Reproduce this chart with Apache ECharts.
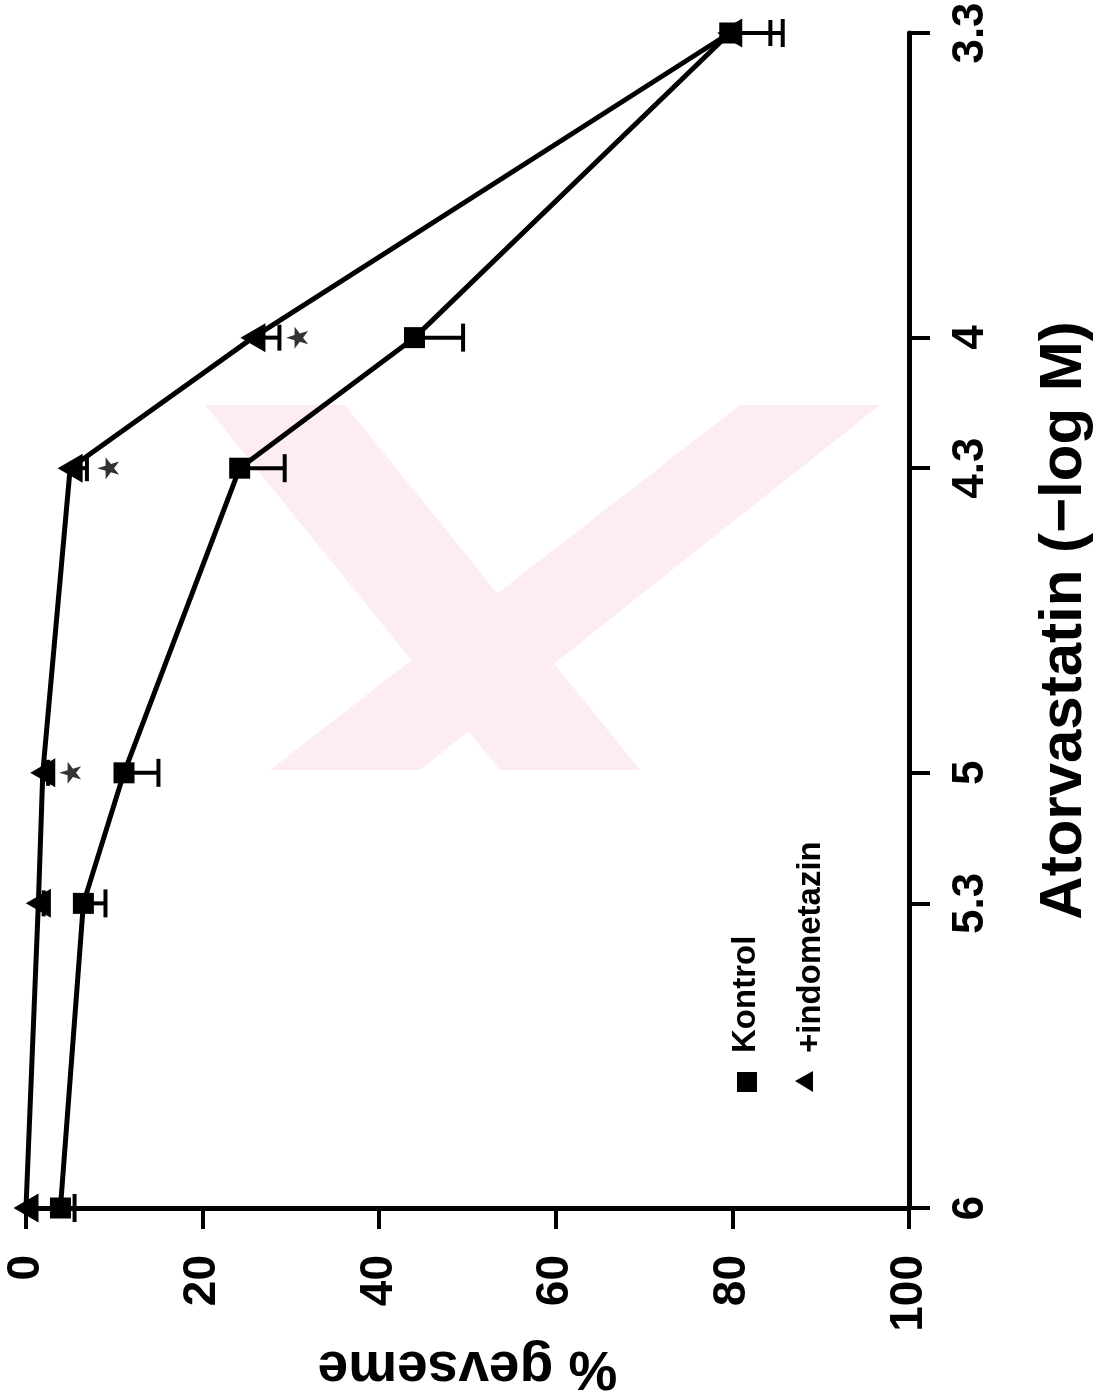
<!DOCTYPE html>
<html>
<head>
<meta charset="utf-8">
<script src="https://cdn.jsdelivr.net/npm/echarts@6/dist/echarts.min.js"></script>
<style>
html, body { margin: 0; padding: 0; background: #fff; }
#chart { width: 1100px; height: 1397px; }
</style>
</head>
<body>
<div id="chart"></div>
<script>
// Atorvastatin (-log M) doses and readings (% gevseme)
var doseTicks = [3.3, 4, 4.3, 5, 5.3, 6];
var doses = [6, 5.3, 5, 4.3, 4, 3.3];
var kontrol = [3.9, 6.5, 11.1, 24.2, 44.0, 79.7];
var kontrolErr = [1.6, 2.5, 3.9, 5.1, 5.5, 6.0];
var indo = [0, 1.4, 1.9, 5.0, 25.7, 79.7];
var indoErr = [0, 0.6, 0.6, 1.9, 3.0, 4.6];
// significance stars
var starDoses = [5, 4.3, 4];
var starVals = [5.0, 9.3, 30.7];

var FONT = '"Liberation Sans", Arial, sans-serif';
var STAR = 'path://M50,0 L61,35 L98,35 L68,57 L79,91 L50,70 L21,91 L32,57 L2,35 L39,35 Z';

function errSeries(name, vals, errs, capHalf) {
    return {
        type: 'custom',
        name: name,
        coordinateSystem: 'cartesian2d',
        silent: true,
        z: 3,
        data: doses.map(function (d, i) { return [vals[i], vals[i] + errs[i], d]; }),
        encode: { x: [0, 1], y: 2 },
        renderItem: function (params, api) {
            var y = api.value(2);
            var a = api.coord([api.value(0), y]);
            var b = api.coord([api.value(1), y]);
            if (b[0] - a[0] < 1) {
                return null;
            }
            return {
                type: 'group',
                children: [
                    { type: 'line', shape: { x1: a[0], y1: a[1], x2: b[0], y2: b[1] }, style: { stroke: '#000', lineWidth: 4 } },
                    { type: 'line', shape: { x1: b[0], y1: b[1] - capHalf, x2: b[0], y2: b[1] + capHalf }, style: { stroke: '#000', lineWidth: 4 } }
                ]
            };
        }
    };
}

var chart = echarts.init(document.getElementById('chart'));

var option = {
    animation: false,
    backgroundColor: '#fff',
    grid: {
        left: 26,
        right: 191,
        top: 33,
        bottom: 189,
        containLabel: false,
        outerBoundsMode: 'none'
    },
    xAxis: {
        type: 'value',
        position: 'bottom',
        min: 0,
        max: 100,
        interval: 20,
        name: '% gevseme',
        nameLocation: 'middle',
        nameRotate: 180,
        nameGap: 122,
        nameTextStyle: { fontFamily: FONT, fontSize: 55, fontWeight: 'bold', color: '#000' },
        axisLine: { show: true, onZero: false, lineStyle: { color: '#000', width: 5 } },
        axisTick: { show: true, length: 21, lineStyle: { color: '#000', width: 4 } },
        axisLabel: { rotate: 90, margin: 47, fontFamily: FONT, fontSize: 46, fontWeight: 'bold', color: '#000' },
        splitLine: { show: false }
    },
    yAxis: {
        type: 'value',
        position: 'right',
        inverse: true,
        min: 3.3,
        max: 6,
        name: 'Atorvastatin (\u2212log M)',
        nameLocation: 'middle',
        nameRotate: 90,
        nameGap: 125,
        nameTextStyle: { fontFamily: FONT, fontSize: 60, fontWeight: 'bold', color: '#000' },
        axisLine: { show: true, onZero: false, lineStyle: { color: '#000', width: 5 } },
        axisTick: { show: true, length: 21, customValues: doseTicks, lineStyle: { color: '#000', width: 4 } },
        axisLabel: { rotate: 90, margin: 40, customValues: doseTicks, fontFamily: FONT, fontSize: 44, fontWeight: 'bold', color: '#000' },
        splitLine: { show: false }
    },
    graphic: [
        // faint watermark
        { type: 'polygon', z: -10, shape: { points: [[205, 405], [345, 405], [640, 770], [500, 770]] }, style: { fill: '#fdedf0' } },
        { type: 'polygon', z: -10, shape: { points: [[740, 405], [880, 405], [420, 770], [270, 770]] }, style: { fill: '#fdedf0' } },
        // legend
        { type: 'rect', shape: { x: 737, y: 1072, width: 20, height: 20 }, style: { fill: '#000' } },
        { type: 'polygon', shape: { points: [[795, 1081], [813, 1071], [813, 1092]] }, style: { fill: '#000' } },
        { type: 'text', x: 746, y: 1053, rotation: Math.PI / 2, style: { text: 'Kontrol', fontFamily: FONT, fontSize: 33, fontWeight: 'bold', fill: '#000', textAlign: 'left', textVerticalAlign: 'middle' } },
        { type: 'text', x: 811, y: 1053, rotation: Math.PI / 2, style: { text: '+indometazin', fontFamily: FONT, fontSize: 33, fontWeight: 'bold', fill: '#000', textAlign: 'left', textVerticalAlign: 'middle' } }
    ],
    series: [
        errSeries('Kontrol err', kontrol, kontrolErr, 14),
        errSeries('+indometazin err', indo, indoErr, 13),
        {
            name: 'Kontrol',
            type: 'line',
            clip: false,
            data: doses.map(function (d, i) { return [kontrol[i], d]; }),
            symbol: 'rect',
            symbolSize: 21,
            lineStyle: { color: '#000', width: 5 },
            itemStyle: { color: '#000' },
            z: 4
        },
        {
            name: '+indometazin',
            type: 'line',
            clip: false,
            data: doses.map(function (d, i) { return [indo[i], d]; }),
            symbol: 'triangle',
            symbolRotate: 90,
            symbolSize: [29, 25],
            lineStyle: { color: '#000', width: 5 },
            itemStyle: { color: '#000' },
            z: 5
        },
        {
            name: 'stars',
            type: 'scatter',
            clip: false,
            data: starDoses.map(function (d, i) { return [starVals[i], d]; }),
            symbol: STAR,
            symbolRotate: 90,
            symbolSize: 22,
            itemStyle: { color: '#000' },
            z: 5
        }
    ]
};

chart.setOption(option);
</script>
</body>
</html>
